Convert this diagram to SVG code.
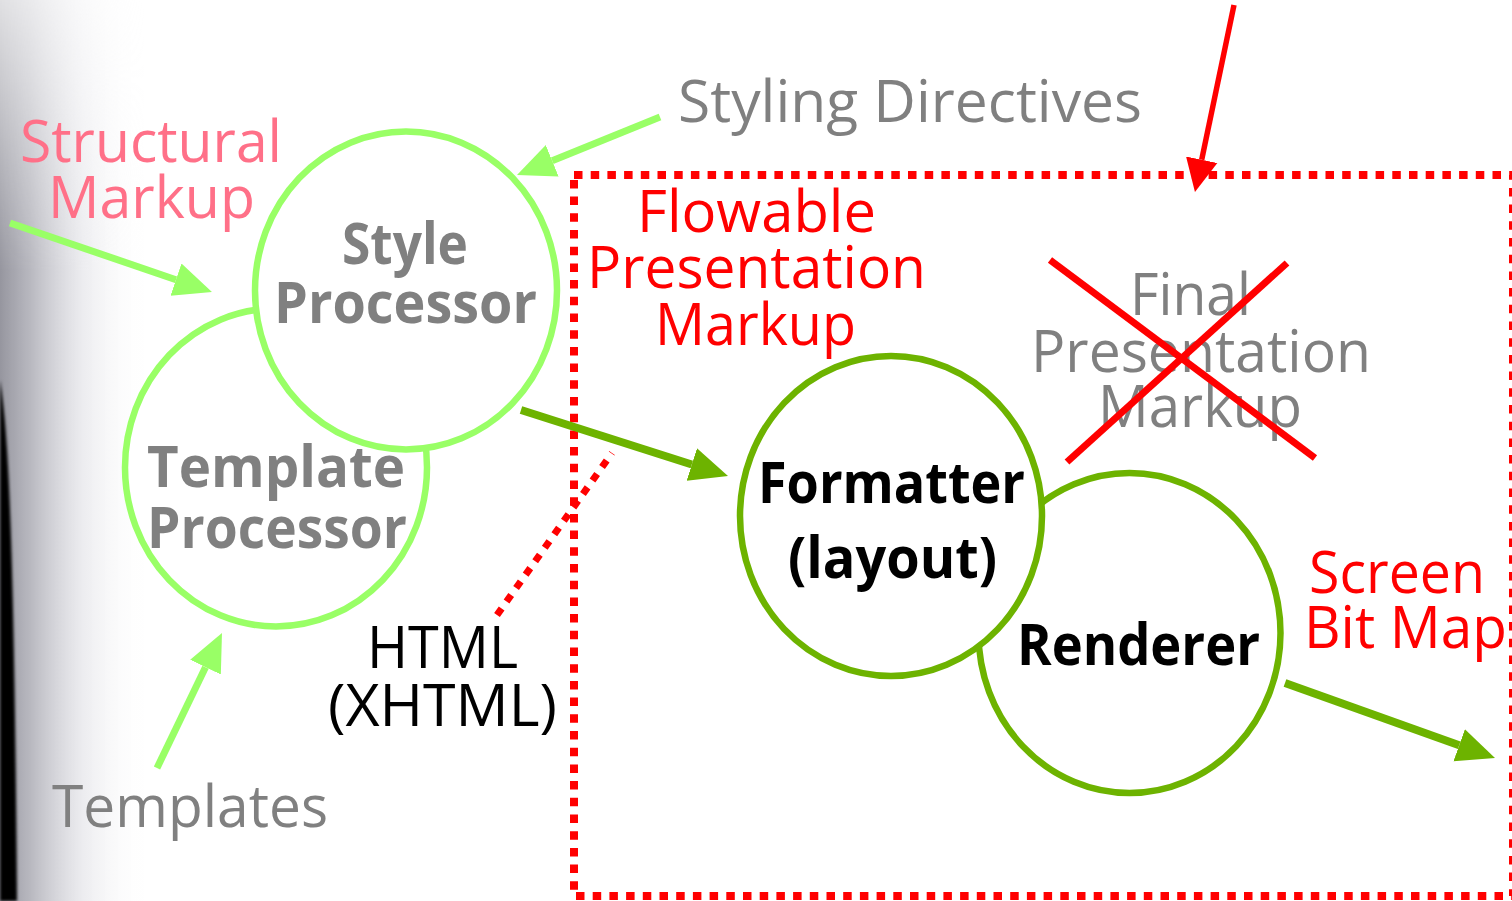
<svg xmlns="http://www.w3.org/2000/svg" width="1512" height="901" viewBox="0 0 1512 901">
<style>
  .t { font-family: "Open Sans", "Noto Sans", "Liberation Sans", sans-serif; font-size: 58px; }
  .b { font-weight: 700; font-size: 57px; }
  .grey { fill: #808080; }
  .pink { fill: #FF7088; }
  .red { fill: #FF0000; }
  .blk { fill: #000000; }
  .lg { fill: none; stroke: #99FF66; stroke-width: 7; }
  .dg { fill: none; stroke: #6DB300; stroke-width: 7; }
  .node-lg { fill: #FFFFFF; stroke: #99FF66; stroke-width: 6.5; }
  .node-dg { fill: #FFFFFF; stroke: #6DB300; stroke-width: 6.5; }
  .dots { fill: none; stroke: #FF0000; stroke-width: 8; stroke-dasharray: 8.5 8.2; }
  .cross { stroke: #FF0000; stroke-width: 7; }
</style>
<defs>
  <linearGradient id="shade" x1="0" y1="0" x2="1" y2="0">
    <stop offset="0" stop-color="#96969f" stop-opacity="1"/>
    <stop offset="0.2" stop-color="#b0b0b8" stop-opacity="0.9"/>
    <stop offset="0.55" stop-color="#dcdce2" stop-opacity="0.55"/>
    <stop offset="1" stop-color="#ffffff" stop-opacity="0"/>
  </linearGradient>
  <linearGradient id="vfade" x1="0" y1="0" x2="0" y2="1">
    <stop offset="0" stop-color="#fff" stop-opacity="0.3"/>
    <stop offset="0.3" stop-color="#fff" stop-opacity="1"/>
    <stop offset="1" stop-color="#fff" stop-opacity="1"/>
  </linearGradient>
  <mask id="vmask" maskUnits="userSpaceOnUse" x="0" y="0" width="200" height="901">
    <rect x="0" y="0" width="200" height="901" fill="url(#vfade)"/>
  </mask>
  <filter id="soft" x="-50%" y="-10%" width="200%" height="120%">
    <feGaussianBlur stdDeviation="1.5"/>
  </filter>
  <marker id="headLG" viewBox="0 -18 40 36" markerWidth="40" markerHeight="36" refX="0" refY="0" orient="auto" markerUnits="userSpaceOnUse">
    <path d="M0,-17 L38,0 L0,17 Z" fill="#99FF66"/>
  </marker>
  <marker id="headDG" viewBox="0 -18 40 36" markerWidth="40" markerHeight="36" refX="0" refY="0" orient="auto" markerUnits="userSpaceOnUse">
    <path d="M0,-17 L38,0 L0,17 Z" fill="#6DB300"/>
  </marker>
  <marker id="headR" viewBox="0 -17 36 34" markerWidth="36" markerHeight="34" refX="0" refY="0" orient="auto" markerUnits="userSpaceOnUse">
    <path d="M0,-16 L33,0 L0,16 Z" fill="#FF0000"/>
  </marker>
</defs>

<rect x="0" y="0" width="1512" height="901" fill="#FFFFFF"/>

<g id="page-shade">
  <rect x="0" y="0" width="150" height="901" fill="url(#shade)" mask="url(#vmask)"/>
  <path d="M0,380 C8,430 14,530 17,901 L0,901 Z" fill="#000000" filter="url(#soft)"/>
</g>

<g id="template-processor">
  <ellipse cx="276" cy="467.5" rx="151" ry="159" class="node-lg"/>
</g>
<g id="style-processor">
  <ellipse cx="406" cy="290.5" rx="151" ry="159" class="node-lg"/>
</g>
<g id="renderer">
  <ellipse cx="1129.5" cy="633" rx="151" ry="160" class="node-dg"/>
</g>
<g id="formatter">
  <ellipse cx="891" cy="516" rx="151" ry="160" class="node-dg"/>
</g>

<g id="boundary">
  <rect x="574" y="175" width="939" height="721" class="dots"/>
</g>

<g id="connectors">
  <line x1="497" y1="615" x2="612" y2="453" class="dots" style="stroke-width:7;stroke-dasharray:8 8.5"/>
  <line x1="10" y1="223" x2="176" y2="279.7" class="lg" marker-end="url(#headLG)"/>
  <line x1="660" y1="117" x2="552.2" y2="160.7" class="lg" marker-end="url(#headLG)"/>
  <line x1="157" y1="768" x2="205.5" y2="667.2" class="lg" marker-end="url(#headLG)"/>
  <line x1="521" y1="410" x2="691.8" y2="464.5" class="dg" style="stroke-width:8" marker-end="url(#headDG)"/>
  <line x1="1285" y1="683" x2="1459.2" y2="745.2" class="dg" style="stroke-width:8" marker-end="url(#headDG)"/>
  <line x1="1234" y1="5" x2="1201.7" y2="159.7" stroke="#FF0000" stroke-width="5.5" marker-end="url(#headR)"/>
</g>

<g id="label-structural-markup">
  <text class="t pink" x="20" y="162" textLength="262" lengthAdjust="spacingAndGlyphs">Structural</text>
  <text class="t pink" x="48" y="218" textLength="207" lengthAdjust="spacingAndGlyphs">Markup</text>
</g>
<g id="label-styling-directives">
  <text class="t grey" x="678" y="122" textLength="464" lengthAdjust="spacingAndGlyphs">Styling Directives</text>
</g>
<g id="label-style-processor">
  <text class="t b grey" x="342" y="264" textLength="126" lengthAdjust="spacingAndGlyphs">Style</text>
  <text class="t b grey" x="274" y="323" textLength="263" lengthAdjust="spacingAndGlyphs">Processor</text>
</g>
<g id="label-template-processor">
  <text class="t b grey" x="147" y="487" textLength="258" lengthAdjust="spacingAndGlyphs">Template</text>
  <text class="t b grey" x="147" y="548" textLength="260" lengthAdjust="spacingAndGlyphs">Processor</text>
</g>
<g id="label-templates">
  <text class="t grey" x="52" y="827" textLength="276" lengthAdjust="spacingAndGlyphs">Templates</text>
</g>
<g id="label-html">
  <text class="t blk" x="367" y="668" textLength="151" lengthAdjust="spacingAndGlyphs">HTML</text>
  <text class="t blk" x="328" y="726" textLength="229" lengthAdjust="spacingAndGlyphs">(XHTML)</text>
</g>
<g id="label-flowable">
  <text class="t red" x="637" y="232" textLength="239" lengthAdjust="spacingAndGlyphs">Flowable</text>
  <text class="t red" x="587" y="288" textLength="339" lengthAdjust="spacingAndGlyphs">Presentation</text>
  <text class="t red" x="655" y="345" textLength="201" lengthAdjust="spacingAndGlyphs">Markup</text>
</g>
<g id="label-formatter">
  <text class="t b blk" x="758" y="503" textLength="267" lengthAdjust="spacingAndGlyphs">Formatter</text>
  <text class="t b blk" x="788" y="578" textLength="209" lengthAdjust="spacingAndGlyphs">(layout)</text>
</g>
<g id="label-renderer">
  <text class="t b blk" x="1017" y="665" textLength="243" lengthAdjust="spacingAndGlyphs">Renderer</text>
</g>
<g id="label-final">
  <text class="t grey" x="1130" y="315" textLength="121" lengthAdjust="spacingAndGlyphs">Final</text>
  <text class="t grey" x="1031" y="372" textLength="340" lengthAdjust="spacingAndGlyphs">Presentation</text>
  <text class="t grey" x="1098" y="427" textLength="204" lengthAdjust="spacingAndGlyphs">Markup</text>
  <line x1="1050" y1="260" x2="1315" y2="458" class="cross"/>
  <line x1="1287" y1="263" x2="1067" y2="462" class="cross"/>
</g>
<g id="label-screen">
  <text class="t red" x="1309" y="593" textLength="176" lengthAdjust="spacingAndGlyphs">Screen</text>
  <text class="t red" x="1304" y="648" textLength="203" lengthAdjust="spacingAndGlyphs">Bit Map</text>
</g>
</svg>
